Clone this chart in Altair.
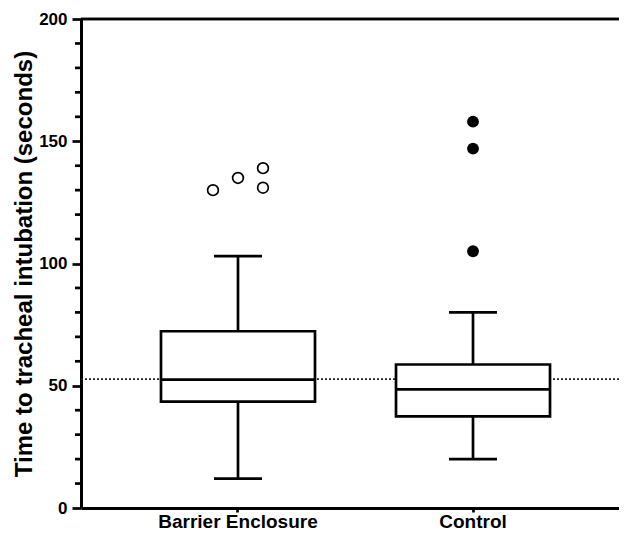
import altair as alt
import pandas as pd

# ---- data ----
groups = ["Barrier Enclosure", "Control"]
whisker_low = [12, 20]
q1 = [43.5, 37.5]
median = [52.5, 48.5]
q3 = [72.3, 58.7]
whisker_high = [103, 80]

be_outliers = [130, 135, 139, 131]
be_outlier_slot = [-1, 0, 1, 1]
control_outliers = [158, 147, 105]
control_outlier_slot = [0, 0, 0]

reference_line = 52.7
y_max = 200
major_ticks = [0, 50, 100, 150, 200]
minor_ticks = [10, 20, 30, 40, 60, 70, 80, 90, 110, 120, 130, 140, 160, 170, 180, 190]

FONT = "Liberation Sans"
LW = 2.7
PLOT_W = 538          # visible plot width (page is cropped on the right)
X_RANGE = 549         # the category axis continues past the crop
PAD_OUTER = 0.168
PLOT_H = 489
BAND = X_RANGE / (len(groups) + 2 * PAD_OUTER)

boxes = pd.DataFrame({
    "group": groups, "lo": whisker_low, "q1": q1, "med": median,
    "q3": q3, "hi": whisker_high,
})
open_pts = pd.DataFrame({"group": groups[0], "v": be_outliers, "slot": be_outlier_slot})
filled_pts = pd.DataFrame({"group": groups[1], "v": control_outliers, "slot": control_outlier_slot})
minor = pd.DataFrame({"v": minor_ticks})

y_scale = alt.Scale(domain=[0, y_max], nice=False, zero=True)
x_enc = alt.X(
    "group:N", sort=groups, title=None,
    scale=alt.Scale(paddingInner=0, paddingOuter=PAD_OUTER, range=[0, X_RANGE]),
    axis=alt.Axis(
        labelAngle=0, labelFont=FONT, labelFontSize=19, labelFontWeight="bold",
        labelColor="black", labelPadding=0, tickSize=4, tickWidth=LW,
        tickColor="black", domainColor="black", domainWidth=3, grid=False,
    ),
)
y_axis = alt.Axis(
    values=major_ticks, tickSize=9, tickWidth=LW, tickColor="black",
    domainColor="black", domainWidth=3, grid=False,
    labelFont=FONT, labelFontSize=17, labelFontWeight="bold", labelColor="black",
    labelPadding=5, title="Time to tracheal intubation (seconds)",
    titleFont=FONT, titleFontSize=24, titleFontWeight="bold", titleColor="black",
    titleX=-45,
)

base = alt.Chart(boxes)

lower_whisker = base.mark_rule(color="black", strokeWidth=LW).encode(
    x=x_enc, y=alt.Y("lo:Q", scale=y_scale, axis=y_axis), y2="q1:Q")
upper_whisker = base.mark_rule(color="black", strokeWidth=LW).encode(
    x=x_enc, y=alt.Y("q3:Q", scale=y_scale), y2="hi:Q")
box = base.mark_bar(size=154, fill="white", stroke="black", strokeWidth=LW).encode(
    x=x_enc, y=alt.Y("q1:Q", scale=y_scale), y2="q3:Q")
med_line = base.mark_tick(size=154, thickness=LW, color="black", opacity=1).encode(
    x=x_enc, y=alt.Y("med:Q", scale=y_scale))
cap_lo = base.mark_tick(size=48, thickness=LW, color="black", opacity=1).encode(
    x=x_enc, y=alt.Y("lo:Q", scale=y_scale))
cap_hi = base.mark_tick(size=48, thickness=LW, color="black", opacity=1).encode(
    x=x_enc, y=alt.Y("hi:Q", scale=y_scale))

# continuous offsets start at the band's left edge: centre them in the band
offset = alt.XOffset("slot:Q", scale=alt.Scale(
    domain=[-1, 1], range=[BAND / 2 - 25, BAND / 2 + 25]))
open_layer = alt.Chart(open_pts).mark_point(
    shape="circle", filled=False, size=115, strokeWidth=1.7, color="black", opacity=1
).encode(x=x_enc, xOffset=offset, y=alt.Y("v:Q", scale=y_scale))
filled_layer = alt.Chart(filled_pts).mark_point(
    shape="circle", filled=True, size=140, color="black", opacity=1
).encode(x=x_enc, xOffset=offset, y=alt.Y("v:Q", scale=y_scale))

ref = alt.Chart(boxes).mark_rule(
    color="#222222", strokeWidth=1.5, strokeDash=[2, 2]
).encode(y=alt.datum(reference_line, scale=y_scale))
top_line = alt.Chart(boxes).mark_rule(color="black", strokeWidth=LW).encode(
    y=alt.datum(y_max, scale=y_scale))
minor_layer = alt.Chart(minor).mark_rule(color="black", strokeWidth=LW).encode(
    x=alt.value(-6), x2=alt.value(0), y=alt.Y("v:Q", scale=y_scale))

chart = alt.layer(
    ref, lower_whisker, upper_whisker, box, med_line, cap_lo, cap_hi,
    open_layer, filled_layer, top_line, minor_layer,
).properties(
    width=PLOT_W, height=PLOT_H,
    autosize=alt.AutoSizeParams(type="none"),
    padding={"left": 73, "top": 11, "right": 0, "bottom": 24},
).configure_view(strokeWidth=0)

chart.save("out.html", embed_options={"renderer": "svg", "actions": False})
